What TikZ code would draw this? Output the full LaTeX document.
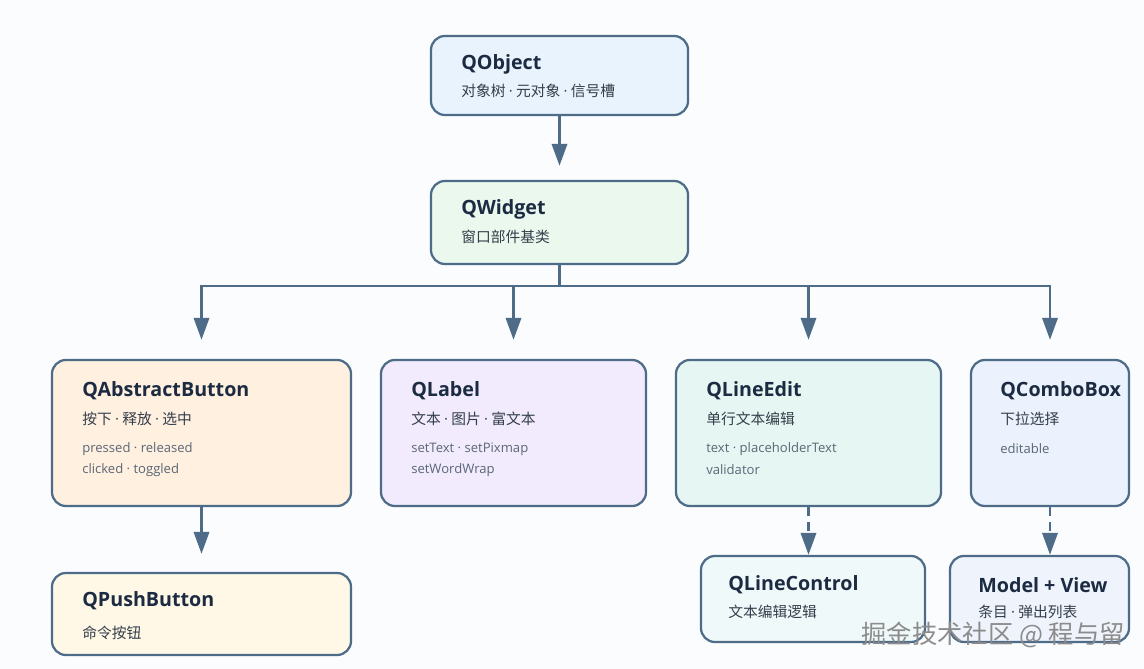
\documentclass[tikz,border=0pt]{standalone}
\usepackage{fontspec}
\setmainfont{Open Sans}
\newfontfamily\cjk{Noto Sans CJK SC}
\usepackage{tikz}
\usetikzlibrary{arrows.meta,shapes}
\usetikzlibrary{positioning}
\newcommand{\mdot}{ {\normalfont·} }
\definecolor{edge}{HTML}{4E6C88}
\definecolor{ink}{HTML}{1C2B42}
\definecolor{subc}{HTML}{343E4A}
\definecolor{apic}{HTML}{5B6777}
\definecolor{bg}{HTML}{FAFCFE}
\definecolor{objfill}{HTML}{E8F3FD}
\definecolor{widfill}{HTML}{EAF8EE}
\definecolor{btnfill}{HTML}{FFF0E0}
\definecolor{lblfill}{HTML}{F1EBFD}
\definecolor{edtfill}{HTML}{E6F7F3}
\definecolor{cmbfill}{HTML}{EBF2FD}
\definecolor{pshfill}{HTML}{FFF8E6}
\definecolor{ctlfill}{HTML}{F0F9FA}
\definecolor{mvfill}{HTML}{EEF3FC}

\begin{document}
\begin{tikzpicture}[x=0.025cm, y=-0.025cm]
\tikzstyle{cls} = [rectangle, rounded corners=0.35cm, draw=edge, line width=1.6pt, inner sep=0pt]
\tikzstyle{ttl} = [anchor=west, inner sep=0pt, font=\bfseries\fontsize{14}{16}\selectfont, text=ink]
\tikzstyle{sub} = [anchor=west, inner sep=0pt, font=\cjk\fontsize{10.5}{12}\selectfont, text=subc]
\tikzstyle{api} = [anchor=west, inner sep=0pt, font=\fontsize{9.3}{11}\selectfont, text=apic]
\tikzstyle{link} = [draw=edge, line width=2pt, -{Triangle[width=0.38cm,length=0.55cm]}]
\useasboundingbox[fill=bg] (0,0) rectangle (1144,669);
% boxes
\node (qobject) [cls, fill=objfill, minimum width=6.425cm, minimum height=1.975cm] at (559.5,75.5) {};
\node (qwidget) [cls, fill=widfill, minimum width=6.425cm, minimum height=2.075cm] at (559.5,222.5) {};
\node (qabstractbutton) [cls, fill=btnfill, minimum width=7.475cm, minimum height=3.65cm] at (201.5,433) {};
\node (qlabel) [cls, fill=lblfill, minimum width=6.625cm, minimum height=3.65cm] at (513.5,433) {};
\node (qlineedit) [cls, fill=edtfill, minimum width=6.625cm, minimum height=3.65cm] at (808.5,433) {};
\node (qcombobox) [cls, fill=cmbfill, minimum width=3.95cm, minimum height=3.65cm] at (1050,433) {};
\node (qpushbutton) [cls, fill=pshfill, minimum width=7.475cm, minimum height=2.05cm] at (201.5,614) {};
\node (qlinecontrol) [cls, fill=ctlfill, minimum width=5.6cm, minimum height=2.15cm] at (813,599) {};
\node (modelview) [cls, fill=mvfill, minimum width=4.475cm, minimum height=2.15cm] at (1039.5,599) {};
% texts
\node (qobject-t) [ttl] at (461,64) {QObject};
\node (qobject-s) [sub] at (461,91) {对象树\mdot 元对象\mdot 信号槽};
\node (qwidget-t) [ttl] at (461,209) {QWidget};
\node (qwidget-s) [sub] at (461,237) {窗口部件基类};
\node (qabstractbutton-t) [ttl] at (82,391) {QAbstractButton};
\node (qabstractbutton-s) [sub] at (82,419) {按下\mdot 释放\mdot 选中};
\node (qabstractbutton-a) [api] at (82,449) {pressed · released};
\node (qabstractbutton-b) [api] at (82,470) {clicked · toggled};
\node (qlabel-t) [ttl] at (411,391) {QLabel};
\node (qlabel-s) [sub] at (411,419) {文本\mdot 图片\mdot 富文本};
\node (qlabel-a) [api] at (411,449) {setText · setPixmap};
\node (qlabel-b) [api] at (411,470) {setWordWrap};
\node (qlineedit-t) [ttl] at (706,391) {QLineEdit};
\node (qlineedit-s) [sub] at (706,419) {单行文本编辑};
\node (qlineedit-a) [api] at (706,449) {text · placeholderText};
\node (qlineedit-b) [api] at (706,470) {validator};
\node (qcombobox-t) [ttl] at (1000,391) {QComboBox};
\node (qcombobox-s) [sub] at (1000,419) {下拉选择};
\node (qcombobox-a) [api] at (1000,449) {editable};
\node (qpushbutton-t) [ttl] at (82,601) {QPushButton};
\node (qpushbutton-s) [sub] at (82,633) {命令按钮};
\node (qlinecontrol-t) [ttl] at (728,585) {QLineControl};
\node (qlinecontrol-s) [sub] at (728,612) {文本编辑逻辑};
\node (modelview-t) [ttl] at (978,585) {Model + View};
\node (modelview-s) [sub] at (978,612) {条目\mdot 弹出列表};
% links
\coordinate (bus) at (559.5,286);
\draw [link, shorten >=0.35cm] (qobject) -- (qwidget);
\draw [link, shorten >=0.475cm] (qwidget.south) -- (bus) -| (qabstractbutton.north);
\draw [link, shorten >=0.475cm] (qwidget.south) -- (bus) -| (qlabel.north);
\draw [link, shorten >=0.475cm] (qwidget.south) -- (bus) -| (qlineedit.north);
\draw [link, shorten >=0.475cm] (qwidget.south) -- (bus) -| (qcombobox.north);
\draw [link, shorten >=0.45cm] (qabstractbutton) -- (qpushbutton);
\draw [link, dash pattern=on 0.22cm off 0.15cm] (qlineedit.south) -- (qlineedit.south |- qlinecontrol.north);
\draw [link, dash pattern=on 0.22cm off 0.15cm] (qcombobox.south) -- (qcombobox.south |- modelview.north);
% watermark
\node (mark) [anchor=east, inner sep=0pt, font=\cjk\fontsize{18}{20}\selectfont, text=black!45] at (1125,635) {掘金技术社区 @ 程与留};
\end{tikzpicture}
\end{document}
